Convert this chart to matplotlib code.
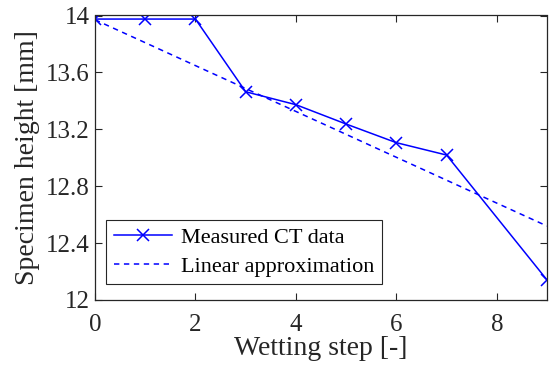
import numpy as np
import matplotlib.pyplot as plt

plt.rcParams['font.family'] = ['Liberation Serif', 'DejaVu Serif']
plt.rcParams['mathtext.fontset'] = 'stix'

step = [0, 1, 2, 3, 4, 5, 6, 7, 9]
height = [13.975, 13.975, 13.975, 13.464, 13.373, 13.237, 13.106, 13.019, 12.141]
lin_step = [0, 9]
lin_height = [13.97, 12.52]

fig = plt.figure(figsize=(5.49, 3.70), dpi=100)
ax = fig.add_axes([95/549, 70/370, 452/549, 284.5/370])

ax.plot(step, height, color='blue', lw=1.1, marker='x', ms=9, mew=1.1, label='Measured CT data')
ax.plot(lin_step, lin_height, color='blue', lw=1.1, ls=(0, (3.5, 3)), label='Linear approximation')

ax.set_xlim(0, 9)
ax.set_ylim(12, 14)
ax.set_xticks([0, 2, 4, 6, 8])
ax.set_yticks([12, 12.4, 12.8, 13.2, 13.6, 14])
ax.set_yticklabels(['12', '12.4', '12.8', '13.2', '13.6', '14'])
ax.tick_params(direction='in', top=True, right=True, length=5, width=0.8,
               labelsize=18, color='0.15', labelcolor='0.15', pad=4)
ax.tick_params(axis='x', pad=10)
for s in ax.spines.values():
    s.set_color('0.15')
    s.set_linewidth(0.9)

ax.set_xlabel('Wetting step [-]', fontsize=20, color='0.15', labelpad=0)
ax.set_ylabel('Specimen height [mm]', fontsize=20, color='0.15', labelpad=4)

leg = ax.legend(loc='lower left', bbox_to_anchor=(0.025, 0.055), fontsize=16, frameon=True,
                fancybox=False, edgecolor='0.15', framealpha=1, borderpad=0.35,
                handlelength=2.6, handletextpad=0.4, labelspacing=0.35, borderaxespad=0)
leg.get_frame().set_linewidth(0.8)

plt.savefig('out.png', dpi=100)
